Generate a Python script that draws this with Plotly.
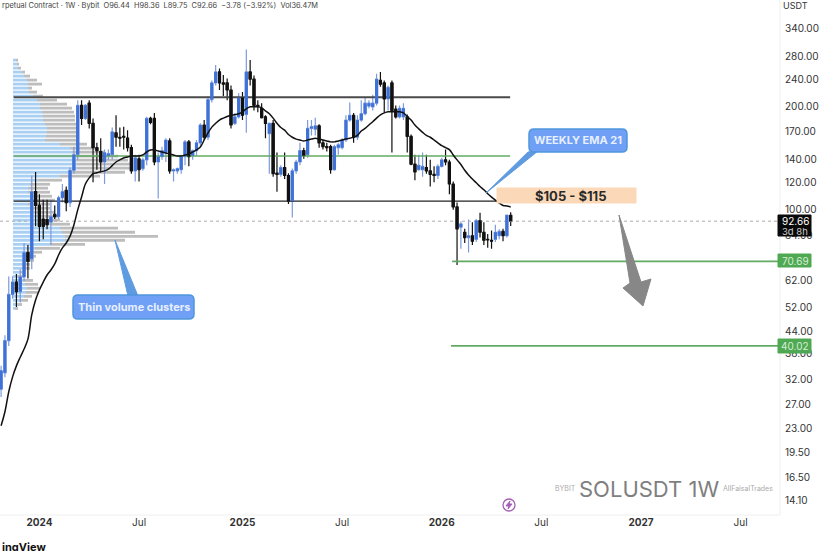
# SOLUSDT weekly chart with volume profile, EMA 21 and marked levels
import pandas as pd
import numpy as np
import plotly.graph_objects as go

W = 825
H = 551

first_week = "2023-10-23"

opens = [29.9, 33.4, 41.5, 56.6, 61.5, 57.7, 63.7, 75, 71.9, 113, 103, 94, 93.7, 92, 97, 95.5, 108.5, 114, 105, 130.5,
         145, 202, 185, 205, 179, 152, 148, 138, 144, 145, 168, 163, 164, 162, 152, 130, 141, 132, 140, 185,
         185, 138, 143, 147, 159, 130, 130, 131, 143, 158, 144, 149, 157, 177, 163, 210, 235, 253, 235, 235,
         224, 179, 187, 213, 190, 253, 241, 202, 198, 187, 167, 179, 128, 127, 133, 126, 106, 130, 138, 149,
         145, 173, 172, 176, 157, 153, 153, 131, 152, 152, 160, 183, 189, 163, 183, 191, 201, 200, 205, 239,
         235, 211, 235, 197, 187, 187, 187, 164, 136, 131, 131, 133, 130, 127, 126, 134, 140, 138, 119, 102,
         89, 86, 83, 84, 82, 93, 86, 82, 81.5, 82, 84, 86.5, 84, 96.44]
highs = [35, 43, 63.9, 64, 65, 67, 80, 79, 126, 129, 111, 107, 107, 107, 103, 110, 119, 117, 133, 153,
         209, 209, 204, 209, 185, 157, 162, 150, 150, 174, 189, 174, 175, 171, 155, 145, 145, 142, 187, 187,
         192, 147, 153, 162, 162, 132, 133, 145, 160, 160, 150, 160, 179, 183, 214, 239, 265, 259, 248, 242,
         231, 192, 219, 221, 294, 274, 247, 209, 205, 189, 180, 183, 147, 135, 147, 128, 132, 140, 157, 152,
         183, 183, 186, 178, 160, 157, 155, 155, 157, 162, 189, 206, 192, 189, 209, 213, 209, 217, 250, 253,
         239, 231, 239, 202, 202, 205, 190, 166, 145, 145, 147, 145, 140, 134, 136, 142, 150, 140, 121, 105,
         92.5, 88, 93.7, 92, 94, 98, 92, 85, 87, 90.5, 87.7, 88, 97, 98.36]
lows = [28.4, 32.4, 40, 55, 52, 53.6, 62, 63, 67, 89.5, 81, 82, 87.7, 79, 94, 94, 105, 99, 102, 127.5,
        140, 177, 183, 173, 120.5, 131, 129, 119, 140, 140, 153, 153, 150, 148, 127.5, 121, 121, 130, 135, 178,
        135, 108, 140, 138, 127.5, 121, 127.5, 127.5, 135, 134, 140, 144, 154, 160, 160, 206, 231, 224, 215, 209,
        173, 177, 185, 183, 168, 231, 195, 193, 185, 162, 127.5, 125, 113, 125, 123, 104, 95, 127.5, 135, 141,
        142, 165, 165, 152, 150, 148, 127.5, 130, 145, 150, 158, 181, 157, 160, 181, 189, 198, 195, 202, 229,
        193, 195, 147, 185, 185, 183, 147, 135, 122, 130, 125, 127.5, 117, 120.5, 123, 133, 135, 111, 100, 69,
        77, 80, 75, 79, 80.5, 83, 79, 77.5, 77, 80.5, 82, 81, 83, 89.75]
closes = [33.9, 41.5, 56.6, 61.5, 57.7, 63.7, 75, 70.7, 113, 103, 89.5, 89.5, 90.5, 95.5, 95.5, 108.5, 113, 105, 130.5, 145,
          202, 185, 202, 179, 152, 149, 138, 147, 146, 169, 163, 162, 163, 152, 130, 142, 131, 140, 185, 180,
          138, 143, 149, 160, 130, 131, 132, 143, 158, 143, 149, 157, 177, 163, 210, 235, 253, 235, 233, 224,
          177, 187, 213, 189, 253, 241, 202, 201, 186, 179, 179, 127.5, 127, 133, 126, 106, 130, 138, 149, 144,
          173, 175, 176, 157, 153, 152, 131, 153, 155, 160, 183, 189, 163, 183, 191, 205, 205, 205, 241, 233,
          211, 228, 195, 187, 198, 198, 164, 136, 129, 135, 134, 130, 127, 126, 134, 140, 138, 119, 102, 88,
          91, 83, 84, 81, 93, 86, 81.5, 81.7, 81, 86, 86.5, 84, 96.5, 92.66]

ema_21 = [23.4, 25.7, 29.4, 32.5, 35, 37.1, 39.2, 41.9, 49.3, 54.5, 58.3, 61.5, 64.5, 66.7, 69.5, 73.8, 77.4, 80, 83.8, 90.3,
          100, 109, 119, 124, 127.5, 128.4, 129.3, 130, 131.6, 134.7, 138, 140, 141.8, 142.7, 143.7, 143.7, 143.7, 144.7, 147.6, 149.6,
          149.6, 148.6, 147.6, 146.6, 145.6, 144.7, 143.7, 143.7, 144.7, 145.6, 147.6, 149.6, 152.6, 160, 167.8, 174.5, 179, 183, 185.4, 187.5,
          189, 189.6, 190.9, 193.5, 197.4, 200, 200, 200, 198.7, 194.7, 190.9, 185.4, 179, 174, 171, 166, 163, 161, 160, 159,
          160, 161, 162, 161, 160, 159, 158, 158, 159, 160, 161, 162, 163, 165, 170, 173, 177, 181, 185.4, 189.6,
          192, 193.5, 193.5, 193.5, 193.5, 192, 187.5, 183, 177, 172.5, 168.5, 165, 163, 160, 157, 154, 152, 150, 144.7, 140,
          135.7, 130.5, 126.5, 123, 120, 117, 114.5, 111.5, 109, 106.8, 104.7, 103, 102.6, 102]

# volume profile rows, volume unit is arbitrary
profile_levels = [274, 266.7, 259.6, 252.7, 246, 239.5, 233.1, 226.9, 220.9, 215, 209.3, 203.7, 198.3, 193, 187.9, 182.9,
                  178, 173.3, 168.7, 164.2, 159.8, 155.6, 151.4, 147.4, 143.5, 139.7, 136, 132.4, 128.8, 125.4, 122.1, 118.8,
                  115.7, 112.6, 109.6, 106.7, 103.9, 101.1, 98.4, 95.8, 93.3, 90.8, 88.4, 86, 83.7, 81.5, 79.3, 77.2,
                  75.2, 73.2, 71.2, 69.3, 67.5, 65.7, 63.9, 62.2, 60.6, 59, 57.4, 55.9, 54.4, 52.9, 51.5]
profile_up = [3, 4, 5, 9, 11, 14, 15, 15, 16, 20, 24, 27, 27, 29, 30, 30,
              32, 34, 34, 33, 32, 47, 57, 59, 62, 63, 64, 64, 59, 47, 25, 17,
              15, 15, 17, 17, 15, 17, 22, 25, 27, 37, 47, 49, 52, 52, 37, 22,
              14, 12, 11, 9, 9, 7, 5, 10, 12, 14, 13, 11, 7, 5, 2]
profile_down = [2, 2, 3, 3, 6, 10, 14, 4, 8, 10, 20, 27, 32, 32, 32, 32,
                31, 30, 30, 31, 31, 27, 25, 33, 43, 52, 53, 53, 53, 40, 24, 20,
                20, 22, 22, 25, 22, 20, 20, 20, 20, 20, 58, 73, 93, 60, 35, 25,
                15, 11, 10, 8, 8, 5, 6, 10, 13, 13, 12, 8, 8, 4, 3]

level_top = 213.4
level_mid = 143.7
level_low = 106
level_support = 70.69
level_target = 40.02
last_price = 92.66

y_ticks = [340, 280, 240, 200, 170, 140, 120, 100, 84, 62, 52, 44, 38, 32, 27, 23, 19.5, 16.5, 14.1]
x_ticks = ["2024-01-01", "2024-07-01", "2025-01-06", "2025-07-07", "2026-01-05", "2026-07-06", "2027-01-04", "2027-07-05"]
x_labels = ["<b>2024</b>", "Jul", "<b>2025</b>", "Jul", "<b>2026</b>", "Jul", "<b>2027</b>", "Jul"]

weeks = pd.date_range(first_week, periods=len(closes), freq="7D")

BLUE = "#3f72d8"
GREEN = "#62aa62"
FONT = "Inter"


# screen pixels to paper coordinates, only for the drawing overlays
def px(x):
    return x / W


def py(y):
    return 1 - y / H


def poly(points, fill, line=None):
    path = "M " + " L ".join(f"{px(x):.5f},{py(y):.5f}" for x, y in points) + " Z"
    return dict(type="path", xref="paper", yref="paper", path=path, fillcolor=fill,
                line=dict(color=line or fill, width=1), layer="above")


def box(x0, y0, x1, y1, fill, line=None, width=1):
    return dict(type="rect", xref="paper", yref="paper", x0=px(x0), x1=px(x1), y0=py(y0), y1=py(y1),
                fillcolor=fill, line=dict(color=line or fill, width=width), layer="above")


def rounded(x0, y0, x1, y1, r, fill, line):
    a, b, c, d = px(x0), px(x1), py(y0), py(y1)
    rx, ry = r / W, r / H
    path = (f"M {a+rx:.5f},{c:.5f} L {b-rx:.5f},{c:.5f} Q {b:.5f},{c:.5f} {b:.5f},{c-ry:.5f} "
            f"L {b:.5f},{d+ry:.5f} Q {b:.5f},{d:.5f} {b-rx:.5f},{d:.5f} L {a+rx:.5f},{d:.5f} "
            f"Q {a:.5f},{d:.5f} {a:.5f},{d+ry:.5f} L {a:.5f},{c-ry:.5f} Q {a:.5f},{c:.5f} {a+rx:.5f},{c:.5f} Z")
    return dict(type="path", xref="paper", yref="paper", path=path, fillcolor=fill,
                line=dict(color=line, width=1.5), layer="above")


def label(text, x, y, size, color, anchor="center"):
    return dict(text=text, xref="paper", yref="paper", x=px(x), y=py(y), xanchor=anchor, yanchor="middle",
                showarrow=False, font=dict(size=size, color=color, family=FONT))


def segments(starts, ends, levels):
    xs, ys = [], []
    for a, b, lev in zip(starts, ends, levels):
        xs += [a, b, None]
        ys += [lev, lev, None]
    return xs, ys


def bodies(rising):
    xs, ys = [], []
    for d, o, c in zip(weeks, opens, closes):
        if (c >= o) == rising:
            xs += [d, d, None]
            ys += [o, c, None]
    return xs, ys


def level_line(price, start, end, color, width, dash="solid"):
    return go.Scatter(x=[start, end], y=[price, price], mode="lines", xaxis="x2", yaxis="y",
                      line=dict(color=color, width=width, dash=dash), hoverinfo="skip", showlegend=False)


fig = go.Figure()

# volume profile sits on the base axis so the candles draw over it
up_end = list(profile_up)
total_end = [u + d for u, d in zip(profile_up, profile_down)]
xs, ys = segments([0] * len(up_end), up_end, profile_levels)
fig.add_trace(go.Scatter(x=xs, y=ys, mode="lines", line=dict(color="#a9d0f2", width=2.8),
                         hoverinfo="skip", showlegend=False))
xs, ys = segments(up_end, total_end, profile_levels)
fig.add_trace(go.Scatter(x=xs, y=ys, mode="lines", line=dict(color="#bdbdbd", width=2.8),
                         hoverinfo="skip", showlegend=False))

fig.add_trace(level_line(last_price, "2023-10-21", "2027-09-15", "#ababab", 1, "dot"))
fig.add_trace(level_line(level_top, "2023-11-15", "2026-05-10", "#4a4a4a", 2))
fig.add_trace(level_line(level_mid, "2023-11-15", "2026-05-10", GREEN, 1.5))
fig.add_trace(level_line(level_low, "2023-11-15", "2026-05-10", "#222222", 1.2))
fig.add_trace(level_line(level_support, "2026-01-24", "2027-09-15", GREEN, 1.8))
fig.add_trace(level_line(level_target, "2026-01-22", "2027-09-15", GREEN, 1.8))

fig.add_trace(go.Candlestick(
    x=weeks, open=opens, high=highs, low=lows, close=closes, xaxis="x2", yaxis="y",
    increasing=dict(line=dict(color="#7c9bdc", width=1.2), fillcolor=BLUE),
    decreasing=dict(line=dict(color="#111111", width=1.2), fillcolor="#111111"),
    whiskerwidth=0, showlegend=False))

# candle bodies come out too narrow at this spacing, thicken them
xs, ys = bodies(True)
fig.add_trace(go.Scatter(x=xs, y=ys, mode="lines", xaxis="x2", yaxis="y", line=dict(color=BLUE, width=3.2),
                         hoverinfo="skip", showlegend=False))
xs, ys = bodies(False)
fig.add_trace(go.Scatter(x=xs, y=ys, mode="lines", xaxis="x2", yaxis="y", line=dict(color="#111111", width=3.2),
                         hoverinfo="skip", showlegend=False))

fig.add_trace(go.Scatter(x=weeks, y=ema_21, mode="lines", xaxis="x2", yaxis="y",
                         line=dict(color="#111111", width=1.5, shape="spline"),
                         hoverinfo="skip", showlegend=False))

shapes = [
    dict(type="line", xref="paper", yref="paper", x0=px(780), x1=px(780), y0=py(0), y1=py(515),
         line=dict(color="#efefef", width=1)),
    dict(type="line", xref="paper", yref="paper", x0=0, x1=px(780), y0=py(515), y1=py(515),
         line=dict(color="#efefef", width=1)),
    box(497, 188, 636, 203, "#fbd9b8"),
    poly([(486, 193), (528, 152), (538, 151)], "#5f9be0"),
    rounded(529, 129, 627, 152, 5, "#6fa0f6", "#4f97dc"),
    poly([(115, 240), (128, 296), (138, 296)], "#5f9be0"),
    rounded(73, 295, 194, 319, 5, "#6fa0f6", "#4f97dc"),
    poly([(619, 215), (641, 282), (651, 279), (643, 306), (623, 288), (630, 283)], "#878787"),
    box(778, 215, 811, 236, "#0a0a0a"),
    box(778, 254, 811, 267, "#4fa852"),
    box(778, 339, 811, 353, "#4fa852"),
    dict(type="circle", xref="paper", yref="paper", x0=px(503), x1=px(515), y0=py(499), y1=py(511),
         fillcolor="#ffffff", line=dict(color="#a45fb5", width=1.3)),
    poly([(510, 501), (506, 506), (509, 506), (508, 509), (512, 504), (509, 504)], "#a45fb5"),
]

annotations = [
    label("rpetual Contract · 1W · Bybit&nbsp; O96.44&nbsp; H98.36&nbsp; L89.75&nbsp; C92.66&nbsp; −3.78 (−3.92%)&nbsp; Vol36.47M",
          0, 6, 7.4, "#444444", "left"),
    label("USDT", 795, 6, 9, "#333333"),
    label("<b>WEEKLY EMA 21</b>", 578, 140.5, 11, "#e8efff"),
    label("<b>Thin volume clusters</b>", 134, 307, 11, "#e8efff"),
    label("<b>$105 - $115</b>", 570, 195.5, 13, "#2a2a2a"),
    label("92.66", 795, 221, 10, "#ffffff"),
    label("3d 8h", 795, 231, 9.5, "#cccccc"),
    label("70.69", 795, 261, 10, "#d8efd8"),
    label("40.02", 795, 346, 10, "#d8efd8"),
    label("SOLUSDT 1W", 649, 489, 22, "#7f7f7f"),
    label("BYBIT", 565, 488, 7, "#aaaaaa"),
    label("AllFaisalTrades", 748, 488, 7, "#aaaaaa"),
    label("<b>ingView</b>", 0, 547, 11, "#111111", "left"),
]

fig.update_layout(
    width=W,
    height=H,
    autosize=False,
    margin=dict(l=0, r=0, t=0, b=0),
    paper_bgcolor="white",
    plot_bgcolor="white",
    showlegend=False,
    font=dict(family=FONT, size=10, color="#333333"),
    xaxis=dict(domain=[0, 780 / W], range=[-13, 767], visible=False, fixedrange=True),
    xaxis2=dict(
        domain=[0, 780 / W],
        overlaying="x",
        type="date",
        side="bottom",
        anchor="y",
        range=["2023-10-21", "2027-09-15"],
        tickvals=x_ticks,
        ticktext=x_labels,
        showgrid=False,
        zeroline=False,
        showline=False,
        rangeslider=dict(visible=False),
        tickfont=dict(size=10, color="#333333"),
    ),
    yaxis=dict(
        domain=[36 / H, 1],
        type="log",
        side="right",
        anchor="x",
        position=780 / W,
        range=[np.log10(12.83), np.log10(410.5)],
        tickvals=y_ticks,
        ticktext=[f"{t:.2f}" for t in y_ticks],
        showgrid=False,
        zeroline=False,
        showline=False,
        ticklabelstandoff=4,
        tickfont=dict(size=10, color="#333333"),
    ),
    shapes=shapes,
    annotations=annotations,
)

# the page body has a default margin, drop it so the figure fills the window
fig.write_html("out.html", config={"displayModeBar": False},
               post_script="document.body.style.margin = '0';")
